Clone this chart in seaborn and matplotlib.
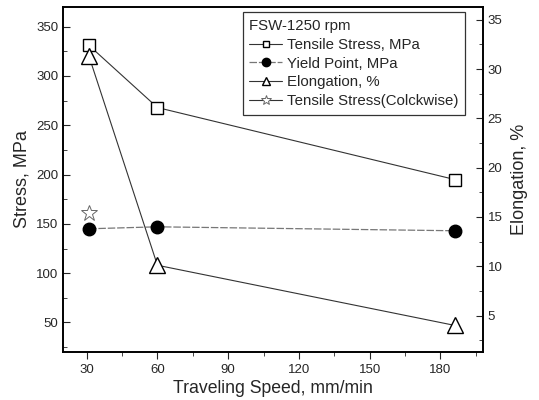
import matplotlib
matplotlib.use("Agg")
import matplotlib.pyplot as plt
import seaborn as sns
from matplotlib.lines import Line2D
from matplotlib.ticker import MultipleLocator

# data
speed = [31, 60, 186]
tensile_stress = [331, 268, 195]
yield_point = [145, 147, 143]
elongation = [31.3, 10.1, 4.0]
speed_cw = [31]
tensile_cw = [161]

sns.set_style("ticks")
plt.rcParams["font.family"] = ["Liberation Sans", "DejaVu Sans"]

fig = plt.figure(figsize=(5.39, 4.0), dpi=100)
ax = fig.add_axes([0.117, 0.12, 0.779, 0.8625])
ax2 = ax.twinx()

line_kw = dict(color="#333333", linewidth=0.8, markeredgecolor="black", markeredgewidth=1.0)
yield_kw = dict(color="#777777", linewidth=0.9, linestyle=(0, (6, 1.5)),
                markeredgecolor="black", markeredgewidth=1.0)

sns.lineplot(x=speed, y=tensile_stress, ax=ax, marker="s", markersize=8,
             markerfacecolor="white", legend=False, **line_kw)
sns.lineplot(x=speed, y=yield_point, ax=ax, marker="o", markersize=9,
             markerfacecolor="black", legend=False, **yield_kw)
sns.lineplot(x=speed, y=elongation, ax=ax2, marker="^", markersize=11,
             markerfacecolor="white", legend=False, **line_kw)
sns.lineplot(x=speed_cw, y=tensile_cw, ax=ax, marker="*", markersize=12,
             markerfacecolor="white", color="#333333", linewidth=0.8,
             markeredgecolor="#666666", markeredgewidth=0.7, legend=False)

ax.set_xlim(20, 198)
ax.set_ylim(20, 370)
ax2.set_ylim(1.3, 36.3)

ax.xaxis.set_major_locator(MultipleLocator(30))
ax.xaxis.set_minor_locator(MultipleLocator(15))
ax.yaxis.set_major_locator(MultipleLocator(50))
ax.yaxis.set_minor_locator(MultipleLocator(25))
ax2.yaxis.set_major_locator(MultipleLocator(5))
ax2.yaxis.set_minor_locator(MultipleLocator(2.5))

ax.tick_params(axis="y", which="both", direction="in", labelsize=9.5)
ax.tick_params(axis="y", which="major", length=5)
ax.tick_params(axis="y", which="minor", length=3)
ax.tick_params(axis="x", which="both", direction="out", labelsize=9.5)
ax.tick_params(axis="x", which="major", length=5)
ax.tick_params(axis="x", which="minor", length=3)
ax2.tick_params(axis="y", which="both", direction="in", labelsize=9.5)
ax2.tick_params(axis="y", which="major", length=5)
ax2.tick_params(axis="y", which="minor", length=3)

for a in (ax, ax2):
    for s in a.spines.values():
        s.set_visible(True)
        s.set_linewidth(1.2)
        s.set_color("black")

ax.set_xlabel("Traveling Speed, mm/min", fontsize=12.7, labelpad=3)
ax.set_ylabel("Stress, MPa", fontsize=13, labelpad=4)
ax2.set_ylabel("Elongation, %", fontsize=13, labelpad=6)

# legend proxies with small markers, like the original
handles = [
    Line2D([], [], marker="s", markersize=5, markerfacecolor="white", **line_kw),
    Line2D([], [], marker="o", markersize=6, markerfacecolor="black", **yield_kw),
    Line2D([], [], marker="^", markersize=6, markerfacecolor="white", **line_kw),
    Line2D([], [], marker="*", markersize=7, markerfacecolor="white", color="#333333",
           linewidth=0.8, markeredgecolor="#666666", markeredgewidth=0.7),
]
labels = ["Tensile Stress, MPa", "Yield Point, MPa", "Elongation, %",
          "Tensile Stress(Colckwise)"]
leg = ax.legend(handles, labels, title="FSW-1250 rpm", loc="upper right",
                bbox_to_anchor=(0.97, 1.0), borderaxespad=0.35,
                fontsize=10.8, title_fontsize=10.8,
                frameon=True, fancybox=False, edgecolor="black",
                handlelength=2.2, handletextpad=0.3, labelspacing=0.32,
                borderpad=0.45)
leg.get_frame().set_linewidth(0.9)
leg._legend_box.align = "left"

fig.savefig("out.png", dpi=100)
